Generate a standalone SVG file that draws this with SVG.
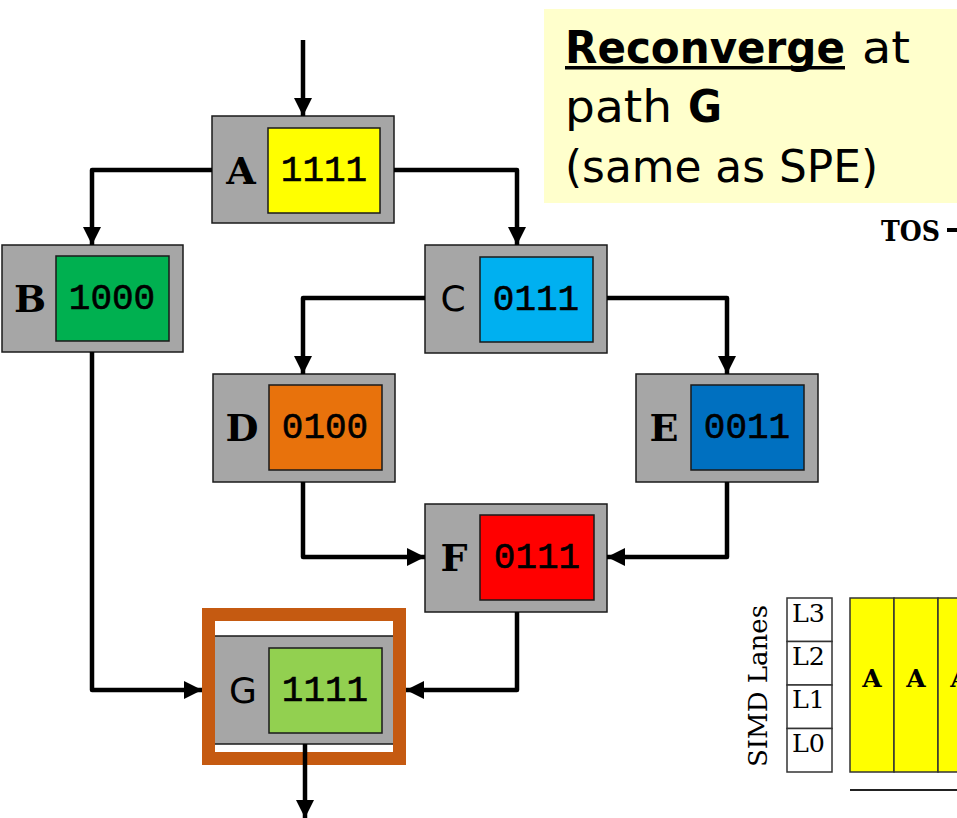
<svg xmlns="http://www.w3.org/2000/svg" width="957" height="818" viewBox="0 0 957 818">
  <style>
    .outer { fill: #A6A6A6; stroke: #1a1a1a; stroke-width: 1.5; }
    .inner { stroke: #1a1a1a; stroke-width: 1.5; }
    .lbl { font-family: "DejaVu Serif", "Liberation Serif", serif; font-weight: bold; font-size: 38px; fill: #000; text-anchor: middle; }
    .lbls { font-family: "DejaVu Sans", "Liberation Sans", sans-serif; font-size: 36px; fill: #000; text-anchor: middle; }
    .mask { font-family: "Liberation Mono", "Courier New", monospace; font-size: 36px; fill: #000; text-anchor: middle; stroke: #000; stroke-width: 0.6; }
    .edge { fill: none; stroke: #000; stroke-width: 4.5; stroke-linejoin: round; marker-end: url(#arrow); }
    .note { font-family: "DejaVu Sans", "Liberation Sans", sans-serif; font-size: 44px; fill: #000; }
    .serif { font-family: "DejaVu Serif", "Liberation Serif", serif; fill: #000; }
    .lane { fill: #fff; stroke: #333; stroke-width: 1.5; }
    .slot { fill: #FFFF00; stroke: #333; stroke-width: 1.5; }
  </style>
  <defs>
    <marker id="arrow" markerUnits="userSpaceOnUse" markerWidth="20" markerHeight="20" refX="18" refY="9" orient="auto">
      <path d="M0,0 L18,9 L0,18 Z" fill="#000"/>
    </marker>
  </defs>

  <!-- callout -->
  <g id="note">
    <rect x="544" y="9" width="420" height="194" fill="#FFFFCC"/>
    <text class="note" x="565" y="63" font-weight="bold" textLength="280" lengthAdjust="spacingAndGlyphs">Reconverge</text>
    <rect x="565" y="66" width="280" height="3.5" fill="#000"/>
    <text class="note" x="862" y="63" textLength="48" lengthAdjust="spacingAndGlyphs">at</text>
    <text class="note" x="565" y="122" textLength="107" lengthAdjust="spacingAndGlyphs">path</text>
    <text class="note" x="688" y="122" font-weight="bold" textLength="34" lengthAdjust="spacingAndGlyphs">G</text>
    <text class="note" x="565" y="182" textLength="313" lengthAdjust="spacingAndGlyphs">(same as SPE)</text>
  </g>

  <!-- stack pointer label -->
  <g id="tos">
    <text class="serif" x="881" y="241" font-size="28" font-weight="bold" textLength="59" lengthAdjust="spacingAndGlyphs">TOS</text>
    <rect x="947" y="228" width="10" height="4" fill="#000"/>
  </g>

  <!-- basic blocks with active masks -->
  <g id="node-A">
    <rect class="outer" x="212" y="116" width="182" height="107"/>
    <rect class="inner" x="268" y="128" width="112" height="85" fill="#FFFF00"/>
    <text class="lbl" x="241" y="184">A</text>
    <text class="mask" x="324" y="181">1111</text>
  </g>
  <g id="node-B">
    <rect class="outer" x="2" y="245" width="181" height="107"/>
    <rect class="inner" x="56" y="256" width="113" height="85" fill="#00B050"/>
    <text class="lbl" x="30" y="312">B</text>
    <text class="mask" x="112" y="309">1000</text>
  </g>
  <g id="node-C">
    <rect class="outer" x="425" y="245" width="182" height="108"/>
    <rect class="inner" x="480" y="257" width="113" height="85" fill="#00B0F0"/>
    <text class="lbls" x="453" y="311">C</text>
    <text class="mask" x="536" y="310">0111</text>
  </g>
  <g id="node-D">
    <rect class="outer" x="213" y="374" width="182" height="108"/>
    <rect class="inner" x="269" y="385" width="113" height="85" fill="#E8720C"/>
    <text class="lbl" x="242" y="441">D</text>
    <text class="mask" x="325" y="438">0100</text>
  </g>
  <g id="node-E">
    <rect class="outer" x="636" y="374" width="182" height="108"/>
    <rect class="inner" x="691" y="385" width="113" height="85" fill="#0070C0"/>
    <text class="lbl" x="664" y="441">E</text>
    <text class="mask" x="747" y="438">0011</text>
  </g>
  <g id="node-F">
    <rect class="outer" x="425" y="504" width="182" height="108"/>
    <rect class="inner" x="480" y="515" width="114" height="85" fill="#FF0000"/>
    <text class="lbl" x="454" y="571">F</text>
    <text class="mask" x="537" y="568">0111</text>
  </g>
  <g id="node-G">
    <rect x="208.5" y="614.5" width="191" height="144" fill="#fff"/>
    <rect class="outer" x="213" y="636" width="182" height="108"/>
    <rect class="inner" x="269" y="648" width="113" height="85" fill="#92D050"/>
    <text class="lbls" x="243" y="703">G</text>
    <text class="mask" x="325" y="701">1111</text>
    <rect x="208.5" y="614.5" width="191" height="144" fill="none" stroke="#C55A11" stroke-width="13"/>
  </g>

  <!-- SIMD lane timeline -->
  <g id="lanes">
    <text class="serif" font-size="26" text-anchor="middle" textLength="162" lengthAdjust="spacingAndGlyphs" transform="translate(767,686) rotate(-90)">SIMD Lanes</text>
    <rect class="lane" x="787" y="598" width="45" height="43.5"/>
    <rect class="lane" x="787" y="641.5" width="45" height="43.5"/>
    <rect class="lane" x="787" y="685" width="45" height="43.5"/>
    <rect class="lane" x="787" y="728.5" width="45" height="43.5"/>
    <text class="serif" font-size="24" x="792" y="622" textLength="33" lengthAdjust="spacingAndGlyphs">L3</text>
    <text class="serif" font-size="24" x="792" y="665" textLength="33" lengthAdjust="spacingAndGlyphs">L2</text>
    <text class="serif" font-size="24" x="792" y="708" textLength="33" lengthAdjust="spacingAndGlyphs">L1</text>
    <text class="serif" font-size="24" x="792" y="752" textLength="33" lengthAdjust="spacingAndGlyphs">L0</text>
    <rect class="slot" x="850" y="598" width="44" height="174"/>
    <rect class="slot" x="894" y="598" width="44" height="174"/>
    <rect class="slot" x="938" y="598" width="44" height="174"/>
    <text class="serif" font-size="25" font-weight="bold" text-anchor="middle" x="872" y="687">A</text>
    <text class="serif" font-size="25" font-weight="bold" text-anchor="middle" x="916" y="687">A</text>
    <text class="serif" font-size="25" font-weight="bold" text-anchor="middle" x="960" y="687">A</text>
    <line x1="850" y1="790" x2="957" y2="790" stroke="#222" stroke-width="2"/>
  </g>

  <!-- control-flow edges -->
  <g id="edges">
    <path class="edge" d="M303,40 V116"/>
    <path class="edge" d="M212,170 H92 V245"/>
    <path class="edge" d="M394,170 H517 V245"/>
    <path class="edge" d="M425,298 H303 V374"/>
    <path class="edge" d="M607,298 H727 V374"/>
    <path class="edge" d="M303,482 V557 H425"/>
    <path class="edge" d="M727,482 V557 H607"/>
    <path class="edge" d="M92,352 V690 H202"/>
    <path class="edge" d="M517,612 V690 H406"/>
    <path class="edge" d="M305,744 V818"/>
  </g>
</svg>
